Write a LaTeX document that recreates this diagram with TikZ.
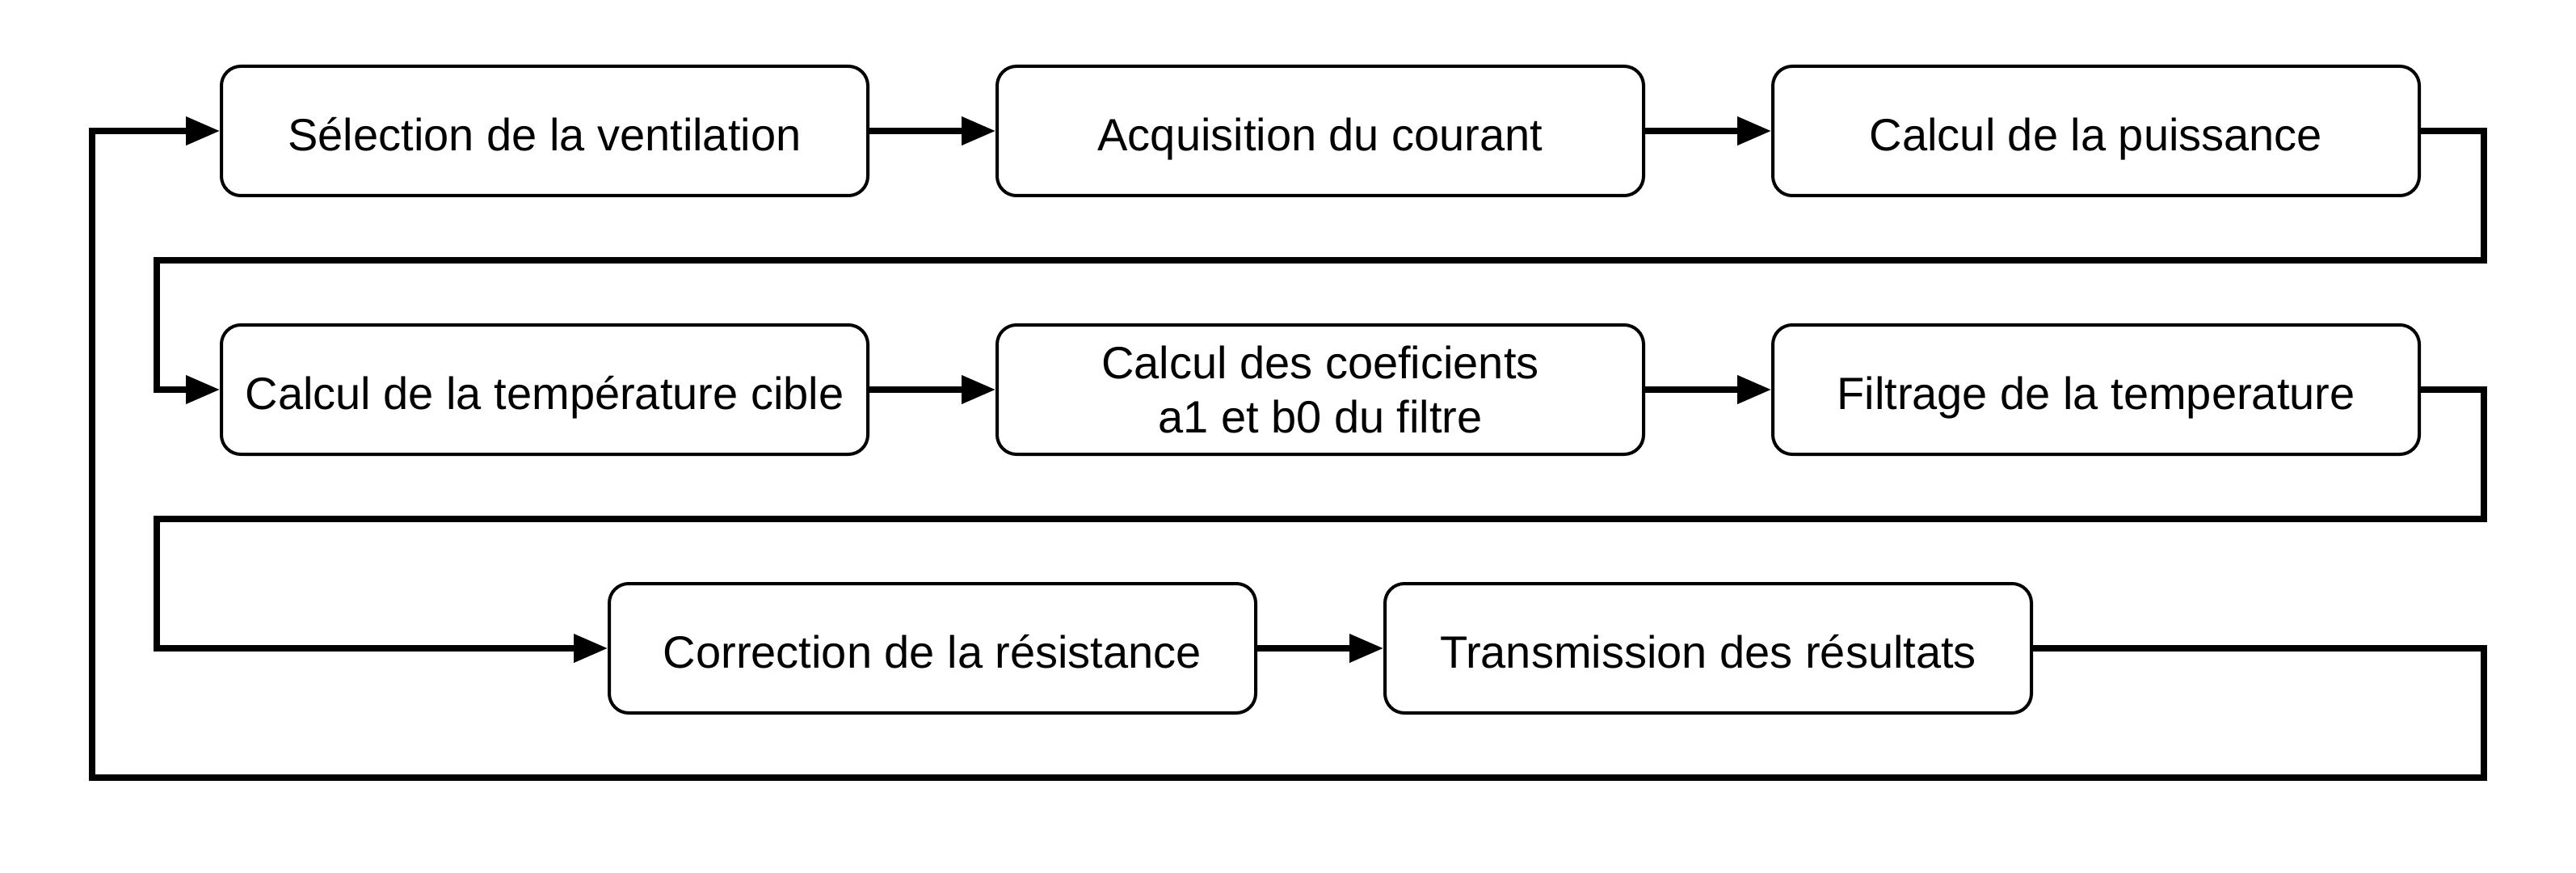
\documentclass[tikz,border=0pt]{standalone}
\usepackage{fontspec}
\setmainfont{Liberation Sans}
\usepackage{tikz}
\usetikzlibrary{arrows.meta}

\begin{document}
\begin{tikzpicture}[x=1pt, y=-1pt,
        etape/.style={draw, line width=1pt, rounded corners=6pt, minimum width=200pt, minimum height=40pt, inner sep=0pt, align=center, text height=16pt, text depth=3.6pt, font=\fontsize{14pt}{16.8pt}\selectfont},
        fleche/.style={line width=1.8pt, -{Triangle[length=10.5pt, width=8.5pt]}}]
        \useasboundingbox (-0.5,-0.5) rectangle (796.5,269.5);

        % First row
        \node[etape] (sel) at (168,40) {Sélection de la ventilation};
        \node[etape] (acq) at (408,40) {Acquisition du courant};
        \node[etape] (puis) at (648,40) {Calcul de la puissance};

        % Second row
        \node[etape] (tcible) at (168,120) {Calcul de la température cible};
        \node[etape, text height=, text depth=] (coef) at (408,120) {Calcul des coeficients\\a1 et b0 du filtre};
        \node[etape] (filt) at (648,120) {Filtrage de la temperature};

        % Third row
        \node[etape] (corr) at (288,200) {Correction de la résistance};
        \node[etape] (trans) at (528,200) {Transmission des résultats};

        % Corners of the return lines
        \coordinate (droite1) at (768,80);
        \coordinate (gauche1) at (48,80);
        \coordinate (droite2) at (768,160);
        \coordinate (gauche2) at (48,160);
        \coordinate (droite3) at (768,240);
        \coordinate (gauche3) at (28,240);

        % Arrows in each row
        \draw[fleche] (sel) -- (acq);
        \draw[fleche] (acq) -- (puis);
        \draw[fleche] (tcible) -- (coef);
        \draw[fleche] (coef) -- (filt);
        \draw[fleche] (corr) -- (trans);

        % Going from one row to the next
        \draw[fleche] (puis.east) -| (droite1) -- (gauche1) |- (tcible.west);
        \draw[fleche] (filt.east) -| (droite2) -- (gauche2) |- (corr.west);

        % Back to the start
        \draw[fleche] (trans.east) -| (droite3) -- (gauche3) |- (sel.west);
    \end{tikzpicture}
\end{document}
